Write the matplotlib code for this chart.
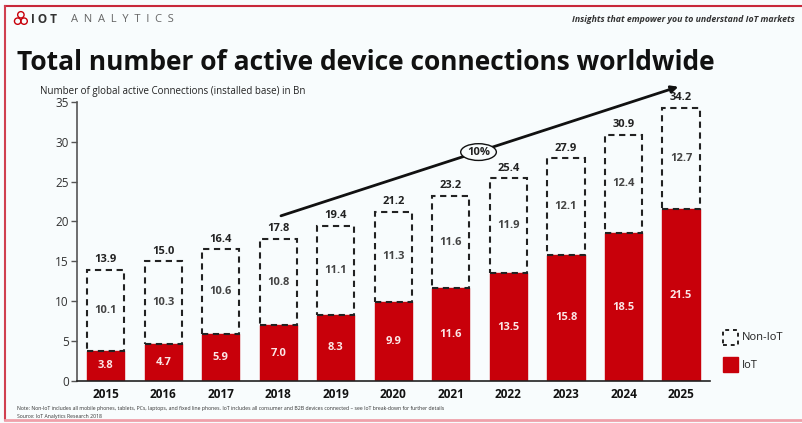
import matplotlib
matplotlib.use("Agg")
import matplotlib.pyplot as plt
from matplotlib.patches import Rectangle, Ellipse
from matplotlib.lines import Line2D

years = ["2015", "2016", "2017", "2018", "2019", "2020", "2021", "2022", "2023", "2024", "2025"]
iot = [3.8, 4.7, 5.9, 7.0, 8.3, 9.9, 11.6, 13.5, 15.8, 18.5, 21.5]
non_iot = [10.1, 10.3, 10.6, 10.8, 11.1, 11.3, 11.6, 11.9, 12.1, 12.4, 12.7]
totals = [13.9, 15.0, 16.4, 17.8, 19.4, 21.2, 23.2, 25.4, 27.9, 30.9, 34.2]
yticks = [0, 5, 10, 15, 20, 25, 30, 35]
cagr_label = "10%"

RED = "#c8000a"
BG = "#f8fcfd"
FONT = "Open Sans"

fig = plt.figure(figsize=(8.03, 4.23), dpi=100, facecolor=BG)
ax = fig.add_axes([0.0959, 0.0993, 0.788, 0.66], facecolor=BG)

x = list(range(len(years)))
w = 0.645
ax.bar(x, iot, width=w, color=RED, edgecolor=RED, zorder=2)
ax.bar(x, non_iot, bottom=iot, width=w, facecolor="none", edgecolor="#222222",
       linestyle=(0, (3, 2.2)), linewidth=1.5, zorder=2)

for i in x:
    ax.text(i, iot[i] / 2, f"{iot[i]:.1f}", ha="center", va="center", color="#fbe6e6",
            fontsize=8, fontweight="bold", family=FONT)
    ax.text(i, iot[i] + non_iot[i] / 2, f"{non_iot[i]:.1f}", ha="center", va="center",
            color="#444444", fontsize=8, fontweight="bold", family=FONT)
    ax.text(i, totals[i] + 0.6, f"{totals[i]:.1f}", ha="center", va="bottom",
            color="#222222", fontsize=8, fontweight="bold", family=FONT)

ax.set_xlim(-0.5, 10.5)
ax.set_ylim(0, 35)
ax.set_yticks(yticks)
ax.set_yticklabels([str(t) for t in yticks], family=FONT, fontsize=8.5, color="#333333")
ax.set_xticks(x)
ax.set_xticklabels(years, family=FONT, fontsize=8.5, fontweight="bold", color="#111111")
ax.tick_params(axis="x", length=0, pad=5)
ax.tick_params(axis="y", length=4, color="#555555", width=1, pad=2)
for s in ["top", "right"]:
    ax.spines[s].set_visible(False)
ax.spines["left"].set_color("#555555")
ax.spines["bottom"].set_color("#222222")
ax.spines["left"].set_linewidth(1.2)
ax.spines["bottom"].set_linewidth(1.2)

# CAGR arrow
ax.annotate("", xy=(10.0, 37.0), xytext=(3.0, 20.6), annotation_clip=False,
            arrowprops=dict(arrowstyle="-|>", color="#111111", lw=2, mutation_scale=10))
ell = Ellipse((6.48, 28.7), 0.62, 2.1, facecolor=BG, edgecolor="#111111", lw=1, zorder=5,
              clip_on=False)
ax.add_patch(ell)
ax.text(6.48, 28.7, cagr_label, ha="center", va="center", fontsize=8, fontweight="bold",
        family=FONT, zorder=6, color="#222222")

# Legend
fig.patches.append(Rectangle((0.9, 0.185), 0.019, 0.035, transform=fig.transFigure,
                             facecolor="none", edgecolor="#222222", linestyle=(0, (2, 2)), lw=1.4))
fig.text(0.924, 0.203, "Non-IoT", fontsize=8, family=FONT, va="center", color="#222222")
fig.patches.append(Rectangle((0.9, 0.12), 0.019, 0.035, transform=fig.transFigure,
                             facecolor=RED, edgecolor=RED))
fig.text(0.924, 0.137, "IoT", fontsize=8, family=FONT, va="center", color="#222222")

# Titles and header
fig.text(0.021, 0.835, "Total number of active device connections worldwide", fontsize=19,
         fontweight="bold", family=FONT, color="#111111", va="baseline")
fig.text(0.05, 0.778, "Number of global active Connections (installed base) in Bn", fontsize=7.0,
         family=FONT, color="#222222", va="baseline")
fig.text(0.039, 0.955, "I O T", fontsize=8.5, fontweight="bold", family=FONT, color="#333333", va="center")
fig.text(0.088, 0.955, "A  N  A  L  Y  T  I  C  S", fontsize=8, family=FONT, color="#666666", va="center")
fig.text(0.99, 0.955, "Insights that empower you to understand IoT markets", fontsize=6.3,
         style="italic", fontweight="bold", family=FONT, color="#333333", ha="right", va="center")
# logo dots
for (lx, ly) in [(0.022, 0.95), (0.03, 0.95), (0.026, 0.965)]:
    fig.patches.append(Ellipse((lx, ly), 0.008, 0.015, transform=fig.transFigure,
                               facecolor="none", edgecolor=RED, lw=1))

fig.text(0.021, 0.03, "Note: Non-IoT includes all mobile phones, tablets, PCs, laptops, and fixed line phones. IoT includes all consumer and B2B devices connected \u2013 see IoT break-down for further details",
         fontsize=3.7, family=FONT, color="#333333", va="baseline")
fig.text(0.021, 0.012, "Source: IoT Analytics Research 2018", fontsize=3.7, family=FONT,
         color="#333333", va="baseline")

# frame
fig.add_artist(Line2D([0.006, 1.0], [0.986, 0.986], transform=fig.transFigure, color="#c8283a", lw=1.5))
fig.add_artist(Line2D([0.006, 0.006], [0.006, 0.986], transform=fig.transFigure, color="#d04050", lw=1.5))
fig.add_artist(Line2D([0.006, 1.0], [0.006, 0.006], transform=fig.transFigure, color="#f0a0aa", lw=2))

fig.savefig("out.png", dpi=100, facecolor=BG)
